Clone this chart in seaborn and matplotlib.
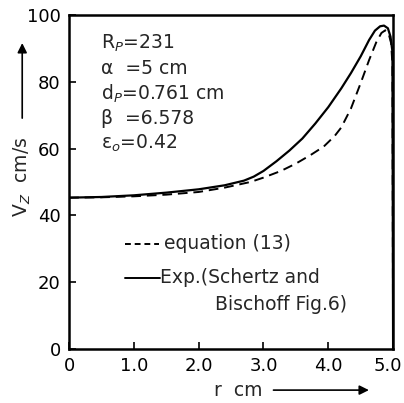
import matplotlib
matplotlib.use("Agg")
import matplotlib.pyplot as plt
import matplotlib.transforms as mtransforms
import seaborn as sns

# radial velocity profiles
r_eq = [0.0, 0.5, 1.0, 1.5, 2.0, 2.4, 2.8, 3.0, 3.27, 3.5, 3.73, 3.93, 4.1, 4.2, 4.35,
        4.5, 4.63, 4.74, 4.82, 4.88, 4.93, 4.97, 4.99, 5.0]
v_eq = [45.3, 45.4, 45.7, 46.2, 47.0, 48.3, 50.0, 51.3, 53.3, 55.5, 58.1, 60.6, 63.8, 66.3, 72.0,
        79.6, 86.5, 91.8, 94.6, 95.4, 94.5, 91.5, 85.0, 0.0]

r_exp = [0.0, 0.5, 1.0, 1.5, 2.0, 2.4, 2.7, 2.85, 3.0, 3.2, 3.4, 3.6, 3.8, 4.0, 4.2, 4.35,
         4.5, 4.63, 4.72, 4.8, 4.86, 4.92, 4.96, 4.99, 5.0]
v_exp = [45.3, 45.5, 46.0, 46.8, 47.8, 49.0, 50.4, 51.6, 53.3, 56.2, 59.4, 63.0, 67.5, 72.4, 78.0, 82.6,
         87.6, 92.5, 95.3, 96.6, 96.8, 96.0, 93.5, 89.0, 0.0]

params = ["R$_P$=231", "α  =5 cm", "d$_P$=0.761 cm", "β  =6.578", "ε$_o$=0.42"]
xticks = [0, 1, 2, 3, 4, 5]
xtick_labels = ["0", "1.0", "2.0", "3.0", "4.0", "5.0"]
yticks = [0, 20, 40, 60, 80, 100]

sns.set_style("ticks")
plt.rcParams["font.family"] = ["DejaVu Sans"]

fig = plt.figure(figsize=(4.04, 4.03), dpi=100)
ax = fig.add_axes([0.171, 0.134, 0.802, 0.829])

sns.lineplot(x=r_eq, y=v_eq, ax=ax, color="black", lw=1.4, sort=False)
ax.lines[-1].set_dashes([5, 3])
sns.lineplot(x=r_exp, y=v_exp, ax=ax, color="black", lw=1.6, sort=False)

ax.set_xlim(0, 5.0)
ax.set_ylim(0, 100)
ax.set_xticks(xticks)
ax.set_xticklabels(xtick_labels)
ax.set_yticks(yticks)
ax.tick_params(direction="in", length=5, width=1.2, labelsize=13, pad=6, colors="black")
# keep the last x label inside the figure
last = ax.get_xticklabels()[-1]
last.set_transform(last.get_transform() + mtransforms.ScaledTranslation(-5 / 100, 0, fig.dpi_scale_trans))
for s in ax.spines.values():
    s.set_linewidth(1.8)
    s.set_color("black")

for i, t in enumerate(params):
    ax.text(0.1, 0.915 - i * 0.075, t, transform=ax.transAxes, fontsize=13.5,
            va="center", ha="left")

# legend drawn by hand like the original
ax.plot([0.87, 1.38], [31.5, 31.5], color="black", lw=1.4, dashes=[3, 2])
ax.text(1.47, 31.5, "equation (13)", fontsize=13.5, va="center")
ax.plot([0.87, 1.4], [21.3, 21.3], color="black", lw=1.4)
ax.text(1.4, 21.3, "Exp.(Schertz and", fontsize=13.5, va="center")
ax.text(2.25, 13.2, "Bischoff Fig.6)", fontsize=13.5, va="center")

ax.set_xlabel("")
ax.set_ylabel("")
fig.text(0.53, 0.032, "r  cm", fontsize=13.5, ha="left", va="center")
ax.annotate("", xy=(0.92, 0.032), xytext=(0.67, 0.032), xycoords="figure fraction",
            arrowprops=dict(arrowstyle="-|>", color="black", lw=1.2, mutation_scale=14))
fig.text(0.055, 0.56, "V$_Z$  cm/s", fontsize=13.5, rotation=90, ha="center", va="center")
ax.annotate("", xy=(0.055, 0.90), xytext=(0.055, 0.70), xycoords="figure fraction",
            arrowprops=dict(arrowstyle="-|>", color="black", lw=1.2, mutation_scale=14))

fig.savefig("out.png", dpi=100)
